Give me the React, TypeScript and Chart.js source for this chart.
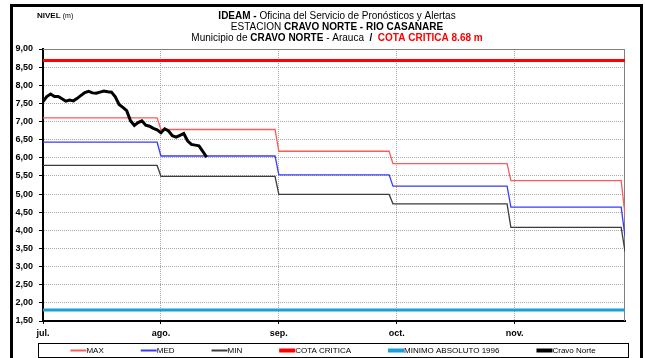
import { useEffect, useRef } from 'react';
import { Chart, registerables } from 'chart.js';

Chart.register(...registerables);

const FONT = '"Liberation Sans", Arial, sans-serif';

// Axis setup (x = days since 1 July)
const MONTH_LABELS = ['jul.', 'ago.', 'sep.', 'oct.', 'nov.'];
const MONTH_TICK_DAYS = [0, 31, 62, 93, 124];
const X_MAX_DAY = 153;
const Y_MIN = 1.5;
const Y_MAX = 9;
const Y_STEP = 0.5;

// Monthly reference levels (Jul..Nov plus the 1 Dec closing value)
const PERIOD_START_DAYS = [0, 31, 62, 92, 123, 153];
const PERIOD_END_DAYS = [30, 61, 91, 122, 152, 153];
const MAX_LEVELS = [7.1, 6.78, 6.18, 5.84, 5.37, 4.43];
const MED_LEVELS = [6.43, 6.05, 5.53, 5.22, 4.64, 3.83];
const MIN_LEVELS = [5.79, 5.49, 4.99, 4.73, 4.08, 3.42];

const COTA_CRITICA = 8.68;
const MINIMO_ABSOLUTO_1996 = 1.8;

// Daily observed level at Cravo Norte from 1 July
const CRAVO_NORTE = [
  7.55, 7.69, 7.76, 7.69, 7.69, 7.63, 7.56, 7.59, 7.57, 7.64,
  7.72, 7.8, 7.83, 7.79, 7.78, 7.81, 7.84, 7.82, 7.81, 7.68,
  7.47, 7.39, 7.3, 7.02, 6.89, 6.97, 7.02, 6.9, 6.87, 6.81,
  6.77, 6.69, 6.8, 6.74, 6.61, 6.57, 6.62, 6.67, 6.47, 6.37,
  6.35, 6.33, 6.18, 6.02,
];

type Seg = { text: string; bold?: boolean; color?: string };

const TITLE_LINES: Seg[][] = [
  [
    { text: 'IDEAM - ', bold: true },
    { text: 'Oficina del Servicio de Pronósticos y Alertas' },
  ],
  [
    { text: 'ESTACION ' },
    { text: 'CRAVO NORTE - RIO CASANARE', bold: true },
  ],
  [
    { text: 'Municipio de ' },
    { text: 'CRAVO NORTE', bold: true },
    { text: ' - Arauca  ' },
    { text: '/  ', bold: true },
    { text: 'COTA CRITICA 8.68 m', bold: true, color: '#ff0000' },
  ],
];

const C_MAX = '#ff5a5a';
const C_MED = '#3a3aff';
const C_MIN = '#3c3c3c';
const C_COTA = '#ff0000';
const C_MINIMO = '#1a9fd6';
const C_CRAVO = '#000000';

function stepPoints(levels: number[]) {
  const pts: { x: number; y: number }[] = [];
  levels.forEach((v, i) => {
    pts.push({ x: PERIOD_START_DAYS[i], y: v });
    if (PERIOD_END_DAYS[i] > PERIOD_START_DAYS[i]) pts.push({ x: PERIOD_END_DAYS[i], y: v });
  });
  return pts;
}

const fmt = (v: number) => v.toFixed(2).replace('.', ',');

function drawSegments(ctx: CanvasRenderingContext2D, segs: Seg[], cx: number, cy: number, size: number) {
  const fontOf = (s: Seg) => `${s.bold ? 'bold ' : ''}${size}px ${FONT}`;
  let total = 0;
  const widths = segs.map((s) => {
    ctx.font = fontOf(s);
    const w = ctx.measureText(s.text).width;
    total += w;
    return w;
  });
  let x = cx - total / 2;
  ctx.textBaseline = 'middle';
  ctx.textAlign = 'left';
  segs.forEach((s, i) => {
    ctx.font = fontOf(s);
    ctx.fillStyle = s.color || '#000';
    ctx.fillText(s.text, x, cy);
    x += widths[i];
  });
}

const LEGEND_ITEMS = [
  { label: 'MAX', color: C_MAX, width: 2 },
  { label: 'MED', color: C_MED, width: 2 },
  { label: 'MIN', color: C_MIN, width: 2 },
  { label: 'COTA CRITICA', color: C_COTA, width: 4 },
  { label: 'MINIMO ABSOLUTO 1996', color: C_MINIMO, width: 4 },
  { label: 'Cravo Norte', color: C_CRAVO, width: 4 },
];

const decorations = {
  id: 'decorations',
  beforeDatasetsDraw(chart: Chart) {
    const { ctx, chartArea } = chart;
    ctx.save();
    ctx.strokeStyle = '#808080';
    ctx.lineWidth = 1;
    ctx.beginPath();
    ctx.moveTo(chartArea.left, chartArea.top + 0.5);
    ctx.lineTo(chartArea.right - 0.5, chartArea.top + 0.5);
    ctx.lineTo(chartArea.right - 0.5, chartArea.bottom);
    ctx.stroke();
    ctx.restore();
  },
  afterDraw(chart: Chart) {
    const { ctx } = chart;
    ctx.save();
    // outer frame
    ctx.strokeStyle = '#000';
    ctx.lineWidth = 3;
    ctx.strokeRect(11.5, 5.5, 630, 400);

    // titles
    TITLE_LINES.forEach((line, i) => drawSegments(ctx, line, 337, 16 + i * 11, 10));

    // unit label
    ctx.textBaseline = 'middle';
    ctx.textAlign = 'left';
    ctx.fillStyle = '#000';
    ctx.font = `bold 8px ${FONT}`;
    ctx.fillText('NIVEL', 37, 16);
    const w = ctx.measureText('NIVEL ').width;
    ctx.font = `7px ${FONT}`;
    ctx.fillText('(m)', 37 + w, 16);

    // legend box
    const boxL = 38, boxR = 628, boxT = 343, boxB = 357;
    ctx.lineWidth = 1;
    ctx.strokeStyle = '#000';
    ctx.strokeRect(boxL + 0.5, boxT + 0.5, boxR - boxL, boxB - boxT);
    ctx.font = `8px ${FONT}`;
    const sample = 16;
    const gap = 37;
    const widths = LEGEND_ITEMS.map((it) => sample + ctx.measureText(it.label).width);
    const total = widths.reduce((a, b) => a + b, 0) + gap * (LEGEND_ITEMS.length - 1);
    let x = (boxL + boxR) / 2 - total / 2;
    const cy = (boxT + boxB) / 2 + 0.5;
    LEGEND_ITEMS.forEach((it, i) => {
      ctx.strokeStyle = it.color;
      ctx.lineWidth = it.width;
      ctx.beginPath();
      ctx.moveTo(x, cy);
      ctx.lineTo(x + sample, cy);
      ctx.stroke();
      ctx.fillStyle = '#000';
      ctx.fillText(it.label, x + sample, cy);
      x += widths[i] + gap;
    });
    ctx.restore();
  },
};

export default function App() {
  const ref = useRef<HTMLCanvasElement | null>(null);

  useEffect(() => {
    if (!ref.current) return;
    const line = (label: string, data: { x: number; y: number }[], color: string, width: number, order: number) => ({
      label,
      data,
      borderColor: color,
      backgroundColor: color,
      borderWidth: width,
      pointRadius: 0,
      tension: 0,
      fill: false,
      order,
    });
    const chart = new Chart(ref.current, {
      type: 'line',
      data: {
        datasets: [
          line('MAX', stepPoints(MAX_LEVELS), C_MAX, 1.3, 5),
          line('MED', stepPoints(MED_LEVELS), C_MED, 1.3, 4),
          line('MIN', stepPoints(MIN_LEVELS), C_MIN, 1.3, 3),
          line('COTA CRITICA', [{ x: 0, y: COTA_CRITICA }, { x: X_MAX_DAY, y: COTA_CRITICA }], C_COTA, 3, 2),
          line('MINIMO ABSOLUTO 1996', [{ x: 0, y: MINIMO_ABSOLUTO_1996 }, { x: X_MAX_DAY, y: MINIMO_ABSOLUTO_1996 }], C_MINIMO, 3, 1),
          line('Cravo Norte', CRAVO_NORTE.map((v, i) => ({ x: i, y: v })), C_CRAVO, 3, 0),
        ],
      },
      options: {
        responsive: false,
        animation: false,
        devicePixelRatio: 1,
        layout: { padding: { left: 0, right: 20, top: 49, bottom: 17 } },
        plugins: { legend: { display: false }, tooltip: { enabled: false }, title: { display: false } },
        scales: {
          x: {
            type: 'linear',
            min: 0,
            max: X_MAX_DAY,
            afterFit: (s: any) => { s.height = 20; },
            afterBuildTicks: (s: any) => { s.ticks = MONTH_TICK_DAYS.map((v) => ({ value: v })); },
            ticks: {
              autoSkip: false,
              maxRotation: 0,
              padding: 4,
              color: '#000',
              font: { family: FONT, size: 9, weight: 'bold' },
              callback: (v: any) => {
                const i = MONTH_TICK_DAYS.indexOf(Number(v));
                return i >= 0 ? MONTH_LABELS[i] : '';
              },
            },
            grid: { color: '#a8a8a8', lineWidth: 1, tickColor: '#000', tickLength: 3, drawTicks: true },
            border: { display: true, color: '#000', width: 2, dash: [1, 1] },
          },
          y: {
            type: 'linear',
            min: Y_MIN,
            max: Y_MAX,
            afterFit: (s: any) => { s.width = 43; },
            ticks: {
              stepSize: Y_STEP,
              padding: 6,
              color: '#000',
              font: { family: FONT, size: 9, weight: 'bold' },
              callback: (v: any) => fmt(Number(v)),
            },
            grid: { color: '#a8a8a8', lineWidth: 1, tickColor: '#000', tickLength: 4, drawTicks: true },
            border: { display: true, color: '#000', width: 2, dash: [1, 1] },
          },
        },
      },
      plugins: [decorations],
    } as any);
    return () => chart.destroy();
  }, []);

  return (
    <div style={{ position: 'fixed', left: 0, top: 0, width: 645, height: 358, background: '#fff' }}>
      <canvas ref={ref} width={645} height={358} style={{ display: 'block' }} />
    </div>
  );
}
